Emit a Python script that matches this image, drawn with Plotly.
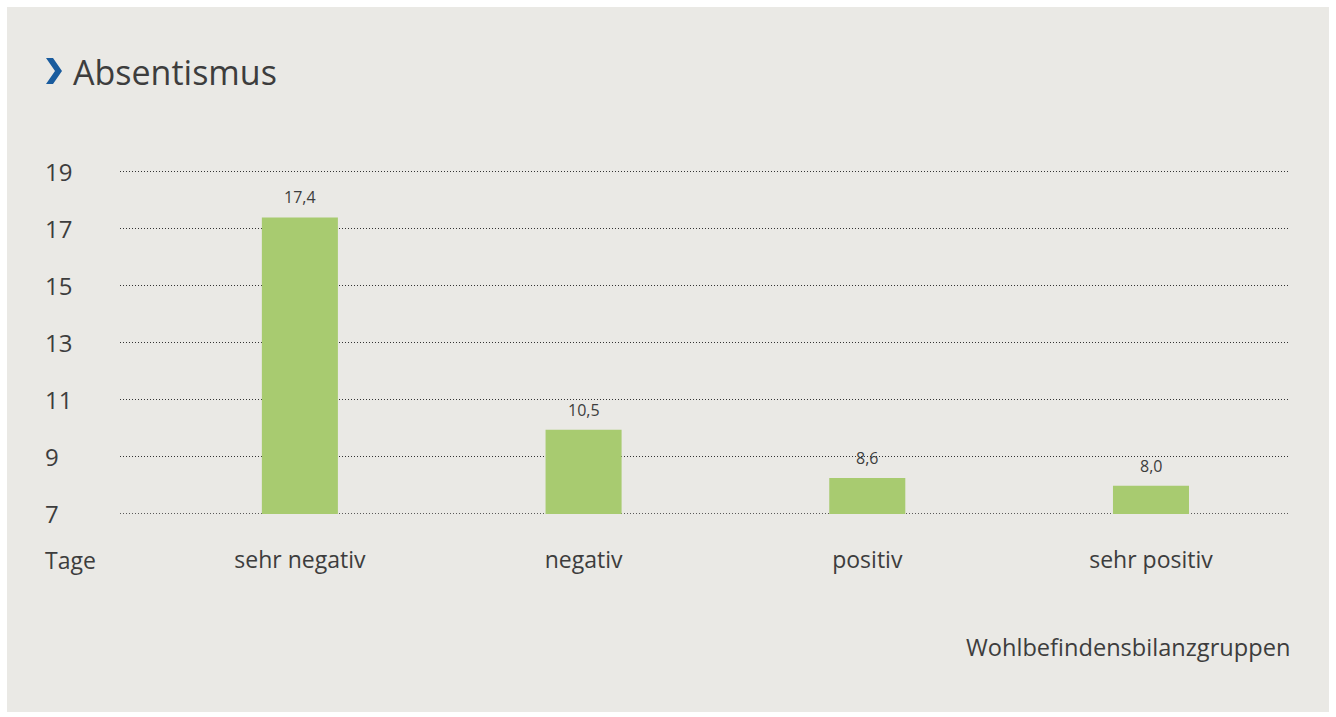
import plotly.graph_objects as go

categories = ["sehr negativ", "negativ", "positiv", "sehr positiv"]
bar_values = [17.4, 9.95, 8.25, 7.98]
value_labels = ["17,4", "10,5", "8,6", "8,0"]
y_ticks = [7, 9, 11, 13, 15, 17, 19]

TEXT = "#3d3d3d"
BG = "#eae9e5"
GREEN = "#a8cb70"
GRID = "#333333"
FONT = "Open Sans, Noto Sans, sans-serif"

W, H = 1336, 717
L, R, T, B = 120, 46, 169, 203
pw, ph = W - L - R, H - T - B

def px(x):
    return (x - L) / pw

def py(y):
    return (H - B - y) / ph

fig = go.Figure()
fig.add_trace(go.Bar(
    x=categories, y=bar_values, marker_color=GREEN, width=0.268,
    marker_line_width=0, hoverinfo="skip", cliponaxis=True,
))

for c, v, lab in zip(categories, bar_values, value_labels):
    fig.add_annotation(x=c, y=v, xref="x", yref="y", text=lab, showarrow=False,
                       yanchor="bottom", yshift=7, font=dict(family=FONT, size=16, color=TEXT))

for t in y_ticks:
    fig.add_annotation(x=px(43), y=t, xref="paper", yref="y", text=str(t), showarrow=False,
                       xanchor="left", yanchor="middle", font=dict(family=FONT, size=24, color=TEXT))

fig.add_annotation(x=px(43), y=py(560), xref="paper", yref="paper", text="Tage", showarrow=False,
                   xanchor="left", yanchor="middle", font=dict(family=FONT, size=23, color=TEXT))
fig.add_annotation(x=px(1292), y=py(647), xref="paper", yref="paper", text="Wohlbefindensbilanzgruppen",
                   showarrow=False, xanchor="right", yanchor="middle",
                   font=dict(family=FONT, size=23.6, color=TEXT))
fig.add_annotation(x=px(71), y=py(72), xref="paper", yref="paper", text="Absentismus",
                   showarrow=False, xanchor="left", yanchor="middle",
                   font=dict(family=FONT, size=34, color=TEXT))
# panel background
fig.add_shape(type="rect", xref="paper", yref="paper", layer="below",
              x0=px(7), x1=px(1329), y0=py(712), y1=py(7), fillcolor=BG, line_width=0)
# baseline grid line at the lowest tick (plotly omits grid lines at the range edge)
fig.add_shape(type="line", xref="paper", yref="y", layer="below",
              x0=0, x1=1, y0=y_ticks[0], y1=y_ticks[0],
              line=dict(color=GRID, width=1, dash="1px,2px"))
# chevron
fig.add_shape(type="path", xref="paper", yref="paper", layer="above",
              path=f"M {px(46)},{py(58)} L {px(53)},{py(58)} L {px(62)},{py(71)} L {px(53)},{py(84)} "
                   f"L {px(46)},{py(84)} L {px(55)},{py(71)} Z",
              fillcolor="#1a5c9e", line_width=0)

fig.update_layout(
    width=W, height=H, margin=dict(l=L, r=R, t=T, b=B),
    paper_bgcolor="white", plot_bgcolor="rgba(0,0,0,0)", showlegend=False,
    bargap=0.5,
    xaxis=dict(range=[-0.634, 3.49], showgrid=False, zeroline=False, showline=False,
               ticks="", tickfont=dict(family=FONT, size=23, color=TEXT), ticklabelstandoff=30),
    yaxis=dict(range=[6.99, 19.1], tickvals=y_ticks, showticklabels=False, showgrid=True,
               gridcolor=GRID, griddash="1px,2px", gridwidth=1, zeroline=False, showline=False),
)

fig.write_html("out.html")
